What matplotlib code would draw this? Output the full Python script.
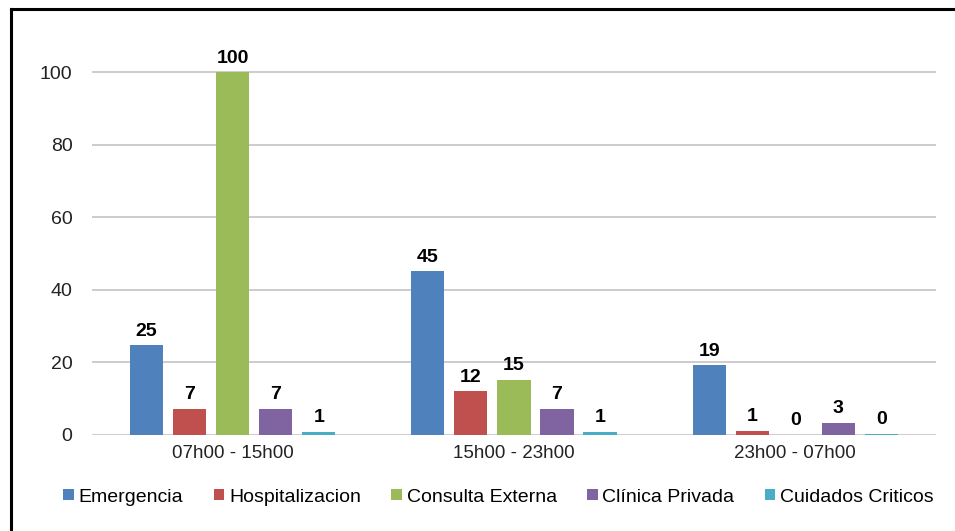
import numpy as np
import matplotlib
matplotlib.use('Agg')
import matplotlib.pyplot as plt
from matplotlib.patches import Patch
from matplotlib.lines import Line2D

plt.rcParams['font.family'] = ['Liberation Sans', 'DejaVu Sans']

# datos
turnos = ['07h00 - 15h00', '15h00 - 23h00', '23h00 - 07h00']
servicios = ['Emergencia', 'Hospitalizacion', 'Consulta Externa', 'Clínica Privada', 'Cuidados Criticos']
emergencia = [24.8, 45.2, 19.2]
hospitalizacion = [7.2, 12.1, 1.1]
consulta_externa = [100, 15.3, 0]
clinica_privada = [7.2, 7.3, 3.4]
cuidados_criticos = [0.9, 0.9, 0.4]
colores = ['#4F81BD', '#C0504D', '#9BBB59', '#8064A2', '#4BACC6']

series = [emergencia, hospitalizacion, consulta_externa, clinica_privada, cuidados_criticos]

fig = plt.figure(figsize=(9.55, 5.31), dpi=100)
ax = fig.add_axes([0.0963, 0.1808, 0.8837, 0.7512])

x = np.arange(len(turnos))
paso = 0.153
ancho = 0.118
for i, (nombre, valores, color) in enumerate(zip(servicios, series, colores)):
    pos = x + (i - 2) * paso
    barras = ax.bar(pos, valores, ancho, color=color, edgecolor='none', zorder=3)
    for b, v in zip(barras, valores):
        ax.annotate(f'{v:.0f}', (b.get_x() + b.get_width() / 2, v),
                    xytext=(0, 4), textcoords='offset points',
                    ha='center', va='bottom', fontsize=14, fontweight='bold', color='black')

ax.set_xlim(-0.5, 2.5)
ax.set_ylim(0, 110)
ax.set_yticks([0, 20, 40, 60, 80, 100])
ax.set_xticks(x)
ax.set_xticklabels(turnos)
ax.grid(axis='y', color='#c8c8c8', linewidth=1.3, zorder=0)
ax.axhline(0, color='#d0d0d0', linewidth=1.5, zorder=2)
for s in ax.spines.values():
    s.set_visible(False)
ax.tick_params(axis='y', length=0, labelsize=14, colors='#222222', pad=14)
ax.tick_params(axis='x', length=0, labelsize=13.5, colors='#222222', pad=7)

handles = [Patch(facecolor=c, edgecolor='none') for c in colores]
fig.legend(handles, servicios, loc='center', bbox_to_anchor=(0.522, 0.064), ncol=5,
           frameon=False, fontsize=14, handlelength=0.55, handleheight=0.55,
           handletextpad=0.25, columnspacing=1.55)

# marco negro (izquierda y arriba)
fig.add_artist(Line2D([0.0115, 0.0115], [0, 0.983], color='black', linewidth=2.2, transform=fig.transFigure))
fig.add_artist(Line2D([0.0115, 1.0], [0.983, 0.983], color='black', linewidth=2.2, transform=fig.transFigure))

fig.savefig('out.png', dpi=100)
plt.close(fig)
